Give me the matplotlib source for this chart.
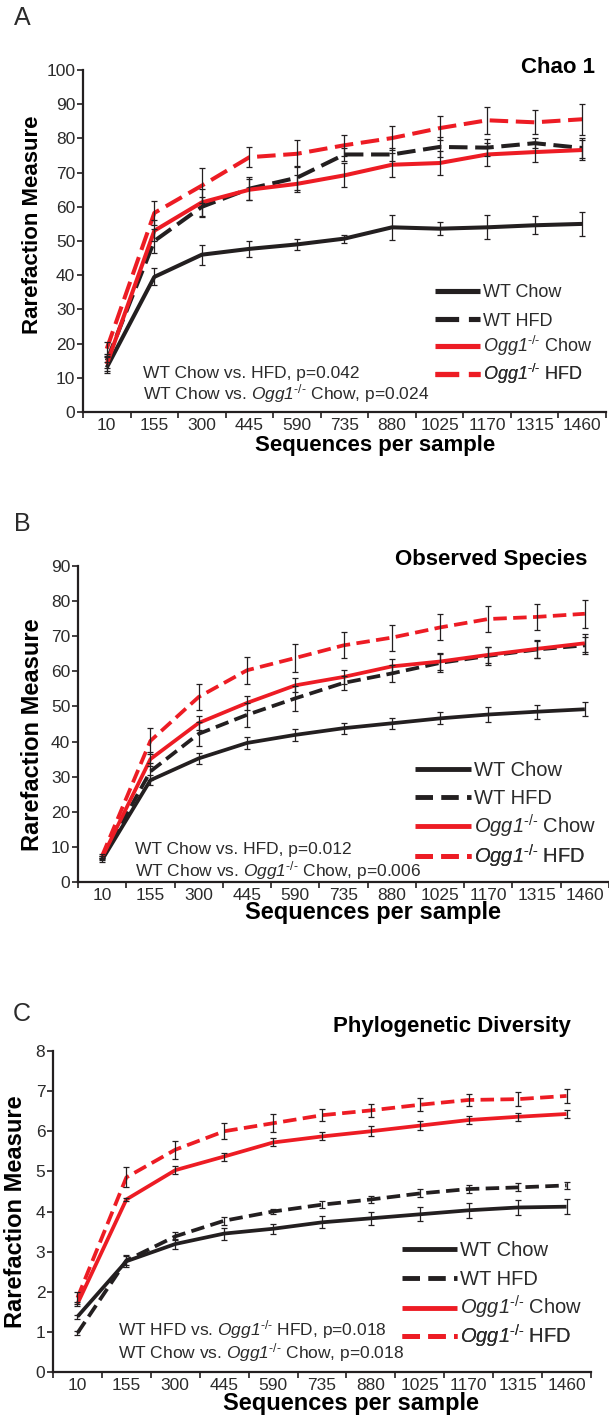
import numpy as np
import matplotlib.pyplot as plt

plt.rcParams['font.family'] = ['Liberation Sans', 'DejaVu Sans']
plt.rcParams['mathtext.fontset'] = 'custom'
plt.rcParams['mathtext.rm'] = 'Liberation Sans'
plt.rcParams['mathtext.it'] = 'Liberation Sans:italic'
# italic via sf so the digit in "Ogg1" stays italic too
plt.rcParams['mathtext.sf'] = 'Liberation Sans:italic'
plt.rcParams['mathtext.bf'] = 'Liberation Sans:bold'

# Categories (sequences per sample)
seqs = ['10', '155', '300', '445', '590', '735', '880', '1025', '1170', '1315', '1460']

# Panel A - Chao 1
chao_wt_chow = [13, 39.5, 46, 47.7, 49, 50.7, 54, 53.6, 54, 54.6, 55]
chao_wt_chow_err = [1.5, 2.5, 2.9, 2.3, 1.5, 1.2, 3.7, 1.9, 3.5, 2.6, 3.5]
chao_wt_hfd = [15, 50, 60, 65.3, 68.5, 75.3, 75.3, 77.5, 77.3, 78.6, 77.2]
chao_wt_hfd_err = [2, 3.5, 3, 3.4, 3.5, 1.8, 2, 3, 2.5, 1.5, 3]
chao_ogg_chow = [14, 53, 61.3, 65, 66.7, 69.2, 72.3, 72.8, 75.3, 76, 76.6]
chao_ogg_chow_err = [2, 3, 4, 3, 2.5, 3.5, 3.5, 3.5, 3.5, 3, 3]
chao_ogg_hfd = [18.5, 58.2, 66.2, 74.5, 75.5, 78, 80.1, 83, 85.3, 84.7, 85.6]
chao_ogg_hfd_err = [2, 3.5, 5, 3, 4, 3, 3.5, 3.5, 4, 3.5, 4.5]

# Panel B - Observed species
obs_wt_chow = [6.3, 29, 35.2, 39.6, 41.9, 43.8, 45.2, 46.6, 47.7, 48.5, 49.2]
obs_wt_chow_err = [0.5, 1.5, 1.5, 1.8, 1.7, 1.6, 1.6, 1.7, 2, 2, 2]
obs_wt_hfd = [6.8, 31.5, 42.2, 47.6, 52.3, 56.7, 59.4, 62.4, 64.4, 66.2, 67.4]
obs_wt_hfd_err = [0.5, 2.5, 3.5, 3.5, 3.5, 2, 2.5, 2.5, 2.5, 2.5, 2.5]
obs_ogg_chow = [7, 35, 45.3, 51, 56, 58.4, 61.4, 62.8, 64.7, 66.4, 68]
obs_ogg_chow_err = [0.5, 2, 1.9, 1.9, 2, 2, 2, 2.3, 2.3, 2.5, 2.5]
obs_ogg_hfd = [7.5, 40.2, 52.7, 60.3, 63.8, 67.4, 69.6, 72.5, 74.9, 75.5, 76.4]
obs_ogg_hfd_err = [0.6, 3.8, 3.8, 3.8, 3.9, 3.7, 3.7, 3.7, 3.8, 3.7, 4]

# Panel C - Phylogenetic diversity
pd_wt_chow = [1.38, 2.76, 3.19, 3.45, 3.57, 3.73, 3.83, 3.93, 4.03, 4.10, 4.12]
pd_wt_chow_err = [0.05, 0.15, 0.13, 0.15, 0.13, 0.15, 0.16, 0.17, 0.18, 0.18, 0.18]
pd_wt_hfd = [0.97, 2.78, 3.38, 3.77, 4.0, 4.17, 4.3, 4.45, 4.56, 4.6, 4.65]
pd_wt_hfd_err = [0.04, 0.12, 0.1, 0.1, 0.05, 0.08, 0.08, 0.1, 0.1, 0.1, 0.08]
pd_ogg_chow = [1.7, 4.3, 5.03, 5.37, 5.72, 5.87, 6.0, 6.14, 6.28, 6.36, 6.43]
pd_ogg_chow_err = [0.05, 0.03, 0.1, 0.1, 0.1, 0.1, 0.12, 0.12, 0.1, 0.1, 0.1]
pd_ogg_hfd = [1.85, 4.85, 5.54, 6.0, 6.2, 6.4, 6.52, 6.66, 6.78, 6.8, 6.88]
pd_ogg_hfd_err = [0.15, 0.25, 0.22, 0.2, 0.22, 0.15, 0.17, 0.16, 0.16, 0.18, 0.18]

OGG = r'$\mathsf{Ogg1}^{\text{-/-}}$'
labels = ['WT Chow', 'WT HFD', OGG + ' Chow', OGG + ' HFD']
RED = '#ED1C24'
BLK = '#231F20'
TXT = '#2B2B2B'
colors = [BLK, BLK, RED, RED]
solid = [True, False, True, False]

W, H = 609, 1418
fig = plt.figure(figsize=(W / 100, H / 100), dpi=100)


def make_axes(left, right, top, bottom):
    return fig.add_axes([left / W, 1 - bottom / H, (right - left) / W, (bottom - top) / H])


def draw_panel(ax, series, errs, ymax, ystep, lw, dash, capsize, title, title_xy,
               notes, note_x, note_y, leg_x, leg_rows, leg_fs, leg_hl):
    x = np.arange(len(seqs))
    lines = []
    for vals, c, s, lab in zip(series, colors, solid, labels):
        line, = ax.plot(x, vals, color=c, lw=lw, label=lab, zorder=2,
                        solid_capstyle='butt', dash_capstyle='butt')
        if not s:
            line.set_dashes(dash)
        lines.append(line)
    for vals, err in zip(series, errs):
        ax.errorbar(x, vals, yerr=err, fmt='none', ecolor=BLK, elinewidth=0.9,
                    capsize=capsize, capthick=0.9, zorder=3)

    ax.set_xlim(-0.5, len(seqs) - 0.5)
    ax.set_ylim(0, ymax)
    ax.set_yticks(np.arange(0, ymax + ystep / 2, ystep))
    ax.set_xticks(x)
    ax.set_xticklabels(seqs)
    ax.set_xticks(np.arange(-0.5, len(seqs)), minor=True)
    ax.tick_params(axis='x', which='major', length=0, pad=4, labelsize=12.5, colors=TXT)
    ax.tick_params(axis='x', which='minor', length=4, width=1.2, color=BLK, direction='out')
    ax.tick_params(axis='y', length=4, width=1.2, pad=1.5, labelsize=12.5, colors=TXT)
    ax.tick_params(axis='y', color=BLK)
    for side in ['top', 'right']:
        ax.spines[side].set_visible(False)
    for side in ['left', 'bottom']:
        ax.spines[side].set_linewidth(1.6)
        ax.spines[side].set_color(BLK)

    ax.text(title_xy[0], title_xy[1], title, transform=ax.transAxes, ha='right',
            va='center', fontsize=16, fontweight='bold', color='black')
    for note, ny in zip(notes, note_y):
        ax.text(note_x, ny, note, transform=ax.transAxes, ha='left', va='center',
                fontsize=12.5, color=TXT)

    # one legend per row so the rows are evenly spaced
    for line, lab, ry in zip(lines, labels, leg_rows):
        leg = ax.legend(handles=[line], labels=[lab], loc='center left',
                        bbox_to_anchor=(leg_x, ry), frameon=False,
                        fontsize=leg_fs, handlelength=leg_hl, handletextpad=0.15,
                        borderpad=0, borderaxespad=0)
        for t in leg.get_texts():
            t.set_color(TXT)
        for h in leg.get_lines():
            h.set_linewidth(lw + 0.8)
        ax.add_artist(leg)


# Panel A
axA = make_axes(83, 606, 70, 412)
draw_panel(axA, [chao_wt_chow, chao_wt_hfd, chao_ogg_chow, chao_ogg_hfd],
           [chao_wt_chow_err, chao_wt_hfd_err, chao_ogg_chow_err, chao_ogg_hfd_err],
           100, 10, 2.9, (4.6, 1.9), 2.5, 'Chao 1', (0.979, 1.006),
           ['WT Chow vs. HFD, p=0.042', 'WT Chow vs. ' + OGG + ' Chow, p=0.024'],
           0.115, [0.114, 0.053], 0.673, [0.348, 0.266, 0.192, 0.110], 13, 2.5)
axA.set_xlabel('Sequences per sample', fontsize=16, fontweight='bold')
axA.xaxis.set_label_coords(0.558, -0.0965)
axA.xaxis.label.set_va('center')
axA.set_ylabel('Rarefaction Measure', fontsize=16, fontweight='bold')
axA.yaxis.set_label_coords(-0.0975, 0.547)
axA.yaxis.label.set_va('center')

# Panel B
axB = make_axes(78, 609, 566, 882)
draw_panel(axB, [obs_wt_chow, obs_wt_hfd, obs_ogg_chow, obs_ogg_hfd],
           [obs_wt_chow_err, obs_wt_hfd_err, obs_ogg_chow_err, obs_ogg_hfd_err],
           90, 10, 2.7, (3.6, 1.7), 2.5, 'Observed Species', (0.960, 1.019),
           ['WT Chow vs. HFD, p=0.012', 'WT Chow vs. ' + OGG + ' Chow, p=0.006'],
           0.107, [0.104, 0.035], 0.635, [0.354, 0.263, 0.176, 0.081], 14.5, 2.75)
axB.set_xlabel('Sequences per sample', fontsize=17, fontweight='bold')
axB.xaxis.set_label_coords(0.556, -0.098)
axB.xaxis.label.set_va('center')
axB.set_ylabel('Rarefaction Measure', fontsize=17, fontweight='bold')
axB.yaxis.set_label_coords(-0.0866, 0.465)
axB.yaxis.label.set_va('center')

# Panel C
axC = make_axes(53, 591, 1051, 1372)
draw_panel(axC, [pd_wt_chow, pd_wt_hfd, pd_ogg_chow, pd_ogg_hfd],
           [pd_wt_chow_err, pd_wt_hfd_err, pd_ogg_chow_err, pd_ogg_hfd_err],
           8, 1, 2.7, (3.6, 1.7), 2.5, 'Phylogenetic Diversity', (0.963, 1.075),
           ['WT HFD vs. ' + OGG + ' HFD, p=0.018', 'WT Chow vs. ' + OGG + ' Chow, p=0.018'],
           0.121, [0.131, 0.062], 0.649, [0.377, 0.287, 0.201, 0.111], 14.5, 2.7)
axC.set_xlabel('Sequences per sample', fontsize=17, fontweight='bold')
axC.xaxis.set_label_coords(0.554, -0.0966)
axC.xaxis.label.set_va('center')
axC.set_ylabel('Rarefaction Measure', fontsize=17, fontweight='bold')
axC.yaxis.set_label_coords(-0.0706, 0.5)
axC.yaxis.label.set_va('center')

# Panel letters
for letter, ly in zip(['A', 'B', 'C'], [18, 524, 1014]):
    fig.text(22 / W, 1 - ly / H, letter, ha='center', va='center', fontsize=18, color=TXT)

fig.savefig('out.png', dpi=100)
